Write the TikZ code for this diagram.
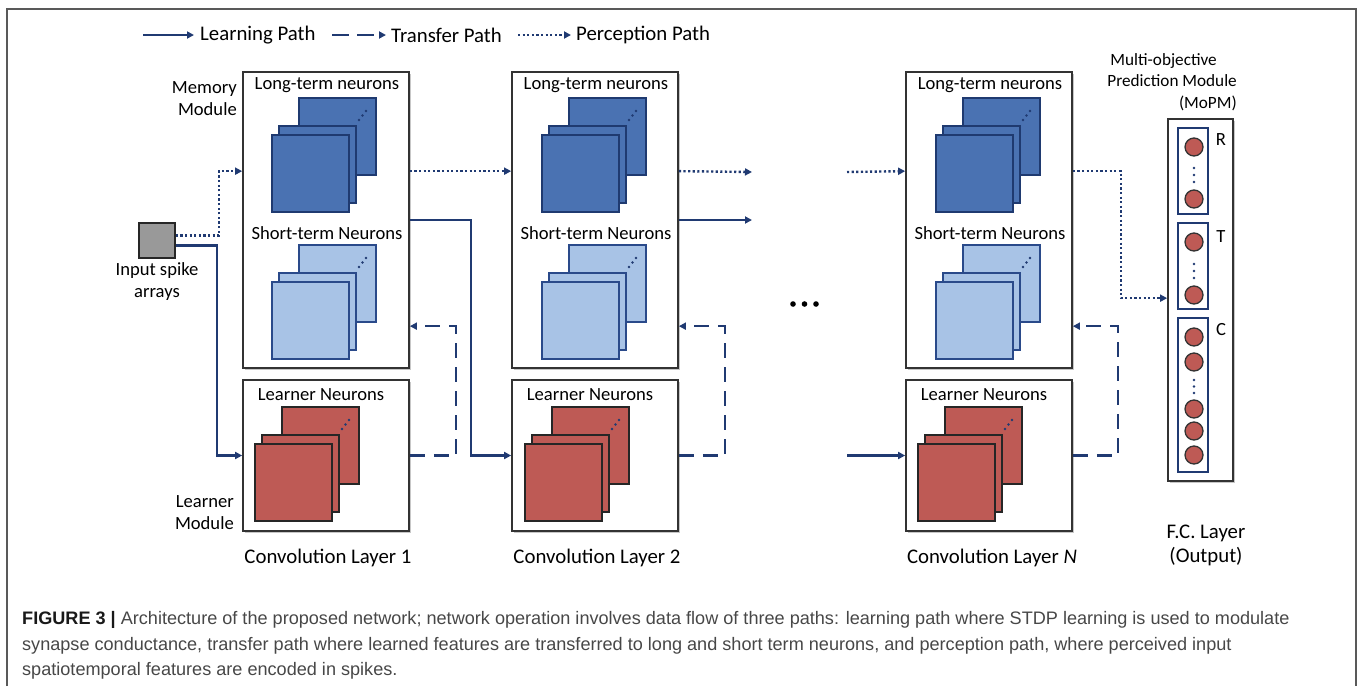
\documentclass[tikz,border=0pt]{standalone}
\usepackage{fontspec}
\setmainfont{Carlito}
\newfontfamily\capfont{Liberation Sans}
\usetikzlibrary{arrows.meta,calc,shadows}
\definecolor{navy}{HTML}{203A72}
\definecolor{longf}{HTML}{4A72B2}
\definecolor{longb}{HTML}{1F3A70}
\definecolor{shortf}{HTML}{A8C3E6}
\definecolor{shortb}{HTML}{2A4A8A}
\definecolor{lrnf}{HTML}{BE5A55}
\newcommand\fstack[3]{%
  \draw[#3] (#1+27,#2-37) rectangle ++(77,77);
  \draw[#3] (#1+7,#2-9) rectangle ++(77,77);
  \draw[#3] (#1,#2) rectangle ++(77,77);
  \foreach \d in {0,1,2} \fill[navy] (#1+87+3.5*\d,#2-15-4.5*\d) circle (1.3);
}
\begin{document}
\begin{tikzpicture}[x=1pt,y=-1pt,
  font=\fontsize{18.6}{22}\selectfont,
  box/.style={rectangle, draw=black!80, line width=1.7pt, fill=white, inner sep=0pt,
    drop shadow={shadow xshift=1.5pt, shadow yshift=-1.5pt, fill=black, opacity=0.22}},
  mem/.style={box, minimum width=166pt, minimum height=296pt},
  lrn/.style={box, minimum width=166pt, minimum height=151pt},
  sqlong/.style={draw=longb, fill=longf, line width=1.6pt},
  sqshort/.style={draw=shortb, fill=shortf, line width=1.6pt},
  sqlrn/.style={draw=black!85, fill=lrnf, line width=1.6pt},
  arr/.style={-{Triangle[length=7pt,width=7pt]}, navy, line width=2.4pt},
  learnp/.style={arr},
  transp/.style={arr, dash pattern=on 15pt off 9pt},
  percp/.style={arr, dash pattern=on 2.2pt off 2.4pt},
  neuron/.style={circle, draw=black!80, fill=lrnf, line width=1.3pt, minimum size=18pt, inner sep=0pt},
  grp/.style={rectangle, draw=navy, line width=1.7pt, minimum width=30pt, inner sep=0pt},
  lbl/.style={inner sep=0pt},
  big/.style={font=\fontsize{20.8}{24}\selectfont},
  sdot/.style={navy}
]
\useasboundingbox (0,0) rectangle (1360,686);
% frame
\draw[black!65, line width=2pt] (7,686) -- (7,9) -- (1356,9) -- (1356,686);

% legend
\coordinate (la) at (143,35); \coordinate (lb) at (194,35);
\coordinate (lc) at (332,35); \coordinate (ld) at (386,35);
\coordinate (le) at (518,35); \coordinate (lf) at (571,35);
\draw[learnp] (la) -- (lb);
\draw[arr, dash pattern=on 17pt off 8pt] (lc) -- (ld);
\draw[percp] (le) -- (lf);
\node[lbl, anchor=west, big] (tl) at (200,35) {Learning Path};
\node[lbl, anchor=west, big] (tt) at (391,35) {Transfer Path};
\node[lbl, anchor=west, big] (tp) at (576,35) {Perception Path};

% input
\node[rectangle, draw=black!85, fill=black!40, line width=1.6pt, minimum width=36pt, minimum height=35pt, inner sep=0pt] (in) at (157,240.5) {};
\node[lbl, align=center] (inl) at (157,282) {Input spike\\arrays};
\node[lbl, align=right, anchor=east] (mml) at (237,99) {Memory\\Module};
\node[lbl, align=right, anchor=east] (lml) at (234,512.5) {Learner\\Module};

% boxes
\node[mem] (m1) at (326,220) {};
\node[lrn] (l1) at (326,455.5) {};
\node[mem] (m2) at (595,220) {};
\node[lrn] (l2) at (595,455.5) {};
\node[mem] (mN) at (989,220) {};
\node[lrn] (lN) at (989,455.5) {};

% stacks
\fstack{272}{135}{sqlong}
\fstack{272}{282}{sqshort}
\fstack{255}{444}{sqlrn}
\fstack{542}{135}{sqlong}
\fstack{542}{282}{sqshort}
\fstack{525}{444}{sqlrn}
\fstack{936}{135}{sqlong}
\fstack{936}{282}{sqshort}
\fstack{918}{444}{sqlrn}

% box texts
\foreach \n/\cx in {1/327,2/596,N/990}{
  \node[lbl] (lt\n) at (\cx,85) {Long-term neurons};
  \node[lbl] (st\n) at (\cx,233) {Short-term Neurons};
  \node[lbl] (ln\n) at (\cx-6,395) {Learner Neurons};
}
\node[lbl, big] (c1) at (328,558) {Convolution Layer 1};
\node[lbl, big] (c2) at (597,558) {Convolution Layer 2};
\node[lbl, big] (cN) at (992,558) {Convolution Layer \textit{N}};

% ellipsis
\foreach \x in {793,804.5,816} \fill (\x,304) circle (2.8);

% MoPM
\node[box, minimum width=65pt, minimum height=362pt] (mo) at (1200.5,300) {};
\node[grp, minimum height=86pt] (gR) at (1193,171) {};
\node[grp, minimum height=86pt] (gT) at (1193,266) {};
\node[grp, minimum height=154pt] (gC) at (1193,395) {};
\foreach \y in {147,199,242,295,337,362,409,431,455} \node[neuron] at (1194,\y) {};
\foreach \y in {168,175,182,264,271,278,380,386.5,393} \fill[sdot] (1194,\y) circle (1.3);
\node[lbl] (R) at (1221,140) {R};
\node[lbl] (T) at (1221,237) {T};
\node[lbl] (C) at (1221,330) {C};
\node[lbl, align=right, anchor=east, font=\fontsize{17.2}{21.5}\selectfont] (mol) at (1237,82) {Multi-objective\hspace*{20pt}\\Prediction Module\\(MoPM)};
\node[lbl, align=center, big] (fc) at (1206,545.5) {F.C. Layer\\(Output)};

% connectors
\coordinate (j0) at (219,200);
\coordinate (j0b) at (217,350);
\coordinate (j1) at (471,350);
\coordinate (t1) at (456,400);
\coordinate (t2) at (725,400);
\coordinate (t3) at (1118,400);
\coordinate (e1) at (752,172);
\coordinate (e2) at (752,220);
\coordinate (s1) at (847,172);
\coordinate (s2) at (847,455.5);
\coordinate (j3) at (1121,250);

\draw[percp] ($(in.east)+(0,-5)$) -| (j0) |- ($(m1.north west)+(0,100)$);
\draw[learnp] ($(in.east)+(0,5)$) -| (j0b) |- (l1.west);
\draw[percp] ($(m1.north east)+(0,100)$) -- ($(m2.north west)+(0,100)$);
\draw[learnp] (m1.east) -| (j1) |- (l2.west);
\draw[transp] (l1.east) -| (t1) |- ($(m1.north east)+(0,255)$);
\draw[transp] (l2.east) -| (t2) |- ($(m2.north east)+(0,255)$);
\draw[percp] ($(m2.north east)+(0,100)$) -- (e1);
\draw[learnp] (m2.east) -- (e2);
\draw[percp] (s1) -- ($(mN.north west)+(0,100)$);
\draw[learnp] (s2) -- (lN.west);
\draw[transp] (lN.east) -| (t3) |- ($(mN.north east)+(0,255)$);
\draw[percp] ($(mN.north east)+(0,100)$) -| (j3) |- ($(mo.north west)+(0,180)$);

% caption
\node[lbl, anchor=north west, align=left, text=black!72, font=\capfont\fontsize{18.1}{25.5}\selectfont] (cap) at (22,611.5)
{{\color{black!90}\textbf{FIGURE 3 |}} Architecture of the proposed network; network operation involves data flow of three paths: learning path where STDP learning is used to modulate\\
synapse conductance, transfer path where learned features are transferred to long and short term neurons, and perception path, where perceived input\\
spatiotemporal features are encoded in spikes.};
\end{tikzpicture}
\end{document}
